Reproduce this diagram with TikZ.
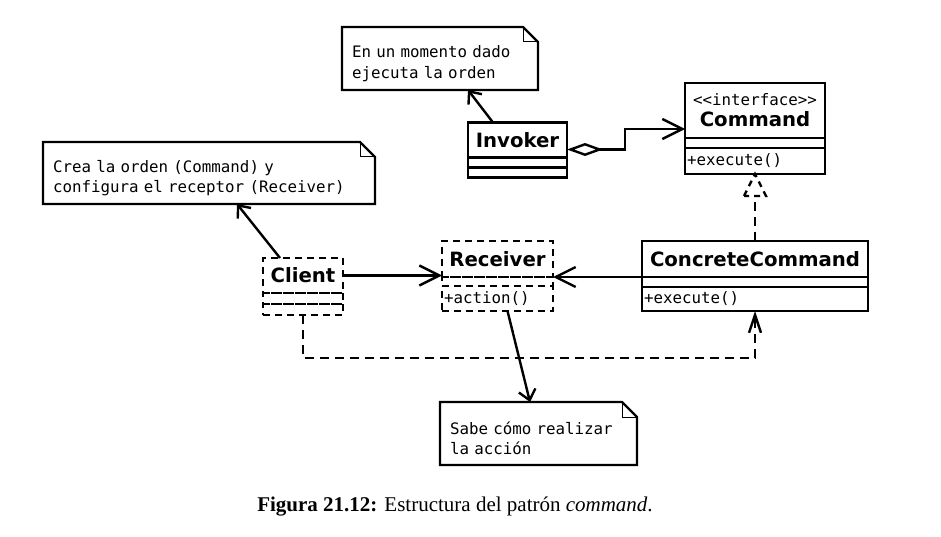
\documentclass[tikz,border=0pt]{standalone}
\usepackage{fontspec}
\setmainfont{Liberation Serif}
\setsansfont{DejaVu Sans}
\newfontfamily\umlmono{DejaVu Sans Mono}
\usepackage{tikz}
\usetikzlibrary{positioning, arrows.meta}

\newcommand{\monotext}{\umlmono\mdseries\fontsize{15.8}{20.5}\selectfont}
\newcommand{\noteedge}[1]{%
	\draw [uml] (#1.south west) -- (#1.north west) -- ([xshift=-15pt]#1.north east) -- ([yshift=-15pt]#1.north east) -- (#1.south east) -- cycle;
	\draw [line width=1pt] ([xshift=-15pt]#1.north east) |- ([yshift=-15pt]#1.north east);
}

\tikzset{
	uml/.style = {line width=2.4pt},
	dashbox/.style = {dash pattern=on 7pt off 5pt},
	classname/.style = {draw, uml, outer sep=0pt, inner sep=2pt, font=\sffamily\bfseries\fontsize{19.7}{21}\selectfont},
	compart/.style = {draw, uml, outer sep=0pt, inner sep=0pt},
	ops/.style = {draw, uml, outer sep=0pt, inner xsep=2pt, inner ysep=0pt, align=left, font=\monotext},
	note/.style = {outer sep=0pt, inner xsep=10pt, inner ysep=0pt, align=left, font=\monotext, execute at begin node={\rule{0pt}{22pt}}},
	assoc/.style = {uml, -{Straight Barb[length=20pt, width=20pt]}},
	noteline/.style = {uml, -{Straight Barb[length=10pt, width=17pt]}},
	dep/.style = {uml, dash pattern=on 9pt off 6pt},
}

\begin{document}
\begin{tikzpicture}[x=1pt, y=-1pt]
		\useasboundingbox (0,0) rectangle (941,537);
		
		% notes
		\node [note, text width=176pt, minimum height=63pt] (note1) at (440,58.5) {En un momento dado\\ejecuta la orden};
		\node [note, text width=312pt, minimum height=62pt] (note2) at (209,173) {Crea la orden (Command) y\\configura el receptor (Receiver)};
		\node [note, text width=177pt, minimum height=63pt] (note3) at (538.5,433.5) {Sabe cómo realizar\\la acción};
		\noteedge{note1}
		\noteedge{note2}
		\noteedge{note3}
		
		% Invoker
		\node [classname, minimum width=99pt, minimum height=35pt] (inv) at (517.5,140) {Invoker};
		\node [compart, minimum width=99pt, minimum height=10pt, below=0pt of inv] (inv a) {};
		\node [compart, minimum width=99pt, minimum height=10pt, below=0pt of inv a] (inv o) {};
		
		% Command
		\node [classname, minimum width=140pt, minimum height=55pt, align=center] (cmd) at (755,110.5) {{\monotext <<interface>>}\\Command};
		\node [compart, minimum width=140pt, minimum height=10pt, below=0pt of cmd] (cmd a) {};
		\node [ops, text width=136pt, minimum height=26pt, below=0pt of cmd a] (cmd o) {+execute()};
		
		% Client
		\node [classname, dashbox, minimum width=80pt, minimum height=35pt] (cl) at (303,275.5) {Client};
		\node [compart, dashbox, minimum width=80pt, minimum height=11pt, below=0pt of cl] (cl a) {};
		\node [compart, dashbox, minimum width=80pt, minimum height=11pt, below=0pt of cl a] (cl o) {};
		
		% Receiver
		\node [classname, dashbox, minimum width=111pt, minimum height=36pt] (rc) at (497.5,259) {Receiver};
		\node [compart, dashbox, minimum width=111pt, minimum height=9pt, below=0pt of rc] (rc a) {};
		\node [ops, dashbox, text width=107pt, minimum height=25pt, below=0pt of rc a] (rc o) {+action()};
		
		% ConcreteCommand
		\node [classname, minimum width=226pt, minimum height=36pt] (cc) at (755,259) {ConcreteCommand};
		\node [compart, minimum width=226pt, minimum height=10pt, below=0pt of cc] (cc a) {};
		\node [ops, text width=222pt, minimum height=24pt, below=0pt of cc a] (cc o) {+execute()};
		
		% connectors
		\draw [noteline] ([xshift=-24.5pt]inv.north) -- ([xshift=28pt]note1.south);
		\draw [noteline] ([xshift=-23pt]cl.north) -- ([xshift=28pt]note2.south);
		\draw [noteline] ([xshift=10pt]rc o.south) -- ([xshift=-8.5pt]note3.north);
		
		\draw [uml, {Diamond[open, length=36pt, width=13pt]}-{Straight Barb[length=20pt, width=20pt]}] ([yshift=-9.5pt]inv.east) -- ++(58,0) |- ([yshift=-18.5pt]cmd.west);
		
		\draw [assoc] (cl.east) -- (cl.east -| rc.west);
		\draw [assoc] (cc.south west) -- (rc.south east);
		
		\coordinate (tri) at ([yshift=-22pt]cmd o.south);
		\draw [dep] (cc.north) -- (tri);
		\draw [uml, dash pattern=on 6pt off 5pt] ([xshift=-11pt]tri) -- (cmd o.south) -- ([xshift=11pt]tri) -- cycle;
		
		\draw [dep, -{Straight Barb[length=18pt, width=12pt]}] (cl o.south) -- ++(0,43) -| (cc o.south);
		
		% caption
		\node (cap) at (455,507) {\fontsize{21}{25}\selectfont\textbf{Figura 21.12:} Estructura del patrón \textit{command}.};
	\end{tikzpicture}
\end{document}
